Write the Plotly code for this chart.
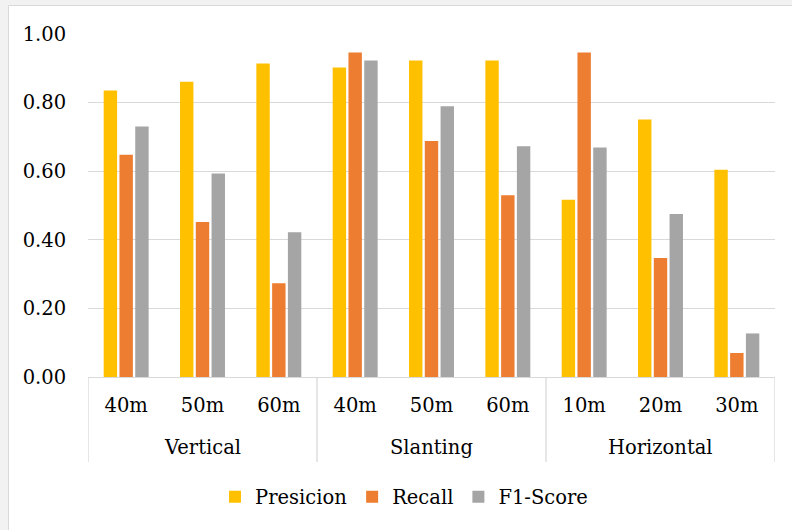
import plotly.graph_objects as go

group_names = ["Vertical", "Slanting", "Horizontal"]
groups = ["Vertical", "Vertical", "Vertical", "Slanting", "Slanting", "Slanting",
          "Horizontal", "Horizontal", "Horizontal"]
distances = ["40m", "50m", "60m", "40m", "50m", "60m", "10m", "20m", "30m"]
precision = [0.835, 0.861, 0.914, 0.902, 0.923, 0.923, 0.517, 0.751, 0.604]
recall = [0.648, 0.452, 0.273, 0.946, 0.688, 0.530, 0.946, 0.347, 0.070]
f1_score = [0.730, 0.593, 0.422, 0.923, 0.789, 0.673, 0.669, 0.475, 0.127]
y_ticks = [0.0, 0.2, 0.4, 0.6, 0.8, 1.0]

W, H = 792, 530
L, R, T, B = 88, 17, 34, 153
pw, ph = W - L - R, H - T - B

font = "DejaVu Serif"
FS = 19.5
xpos = list(range(len(distances)))

fig = go.Figure()
for name, vals, col in [("Presicion", precision, "#FFC000"),
                        ("Recall", recall, "#ED7D31"),
                        ("F1-Score", f1_score, "#A5A5A5")]:
    fig.add_trace(go.Bar(x=xpos, y=vals, name=name, marker_color=col,
                         marker_line_width=0))

def px_x(p):
    return (p - L) / pw

def px_y(p):
    return (H - B - p) / ph

shapes = [
    dict(type="rect", xref="paper", yref="paper", x0=px_x(0), x1=px_x(W), y0=px_y(0), y1=px_y(5),
         fillcolor="#f2f2f2", line_width=0, layer="below"),
    dict(type="rect", xref="paper", yref="paper", x0=px_x(0), x1=px_x(8), y0=px_y(0), y1=px_y(H),
         fillcolor="#f2f2f2", line_width=0, layer="below"),
    dict(type="line", xref="paper", yref="paper", x0=px_x(8.5), x1=px_x(W), y0=px_y(5.5), y1=px_y(5.5),
         line=dict(color="#d9d9d9", width=1)),
    dict(type="line", xref="paper", yref="paper", x0=px_x(8.5), x1=px_x(8.5), y0=px_y(5.5), y1=px_y(H),
         line=dict(color="#d9d9d9", width=1)),
]

# group dividers and group labels
bounds = [-0.5]
annotations = []
start = 0
for g in group_names:
    n = groups.count(g)
    end = start + n
    bounds.append(end - 0.5)
    annotations.append(dict(x=(start + end - 1) / 2, y=px_y(447), xref="x", yref="paper",
                            text=g, showarrow=False, xanchor="center", yanchor="middle",
                            font=dict(family=font, size=FS, color="#000000")))
    start = end
for b in bounds:
    shapes.append(dict(type="line", xref="x", yref="paper", x0=b, x1=b, y0=0, y1=px_y(462),
                       line=dict(color="#d9d9d9", width=1.3)))

fig.update_layout(
    width=W, height=H,
    margin=dict(l=L, r=R, t=T, b=B),
    paper_bgcolor="white", plot_bgcolor="white",
    barmode="group", bargap=0.38, bargroupgap=0.15,
    font=dict(family=font, size=FS, color="#000000"),
    showlegend=True,
    legend=dict(orientation="h", x=0.46, xanchor="center", y=px_y(497), yanchor="middle",
                font=dict(family=font, size=FS), itemwidth=30,
                traceorder="normal"),
    shapes=shapes,
    annotations=annotations,
    xaxis=dict(range=[-0.5, len(distances) - 0.5], tickvals=xpos, ticktext=distances,
               showline=True, linecolor="#d9d9d9", linewidth=1.3,
               ticks="outside", tickcolor="rgba(0,0,0,0)", ticklen=10,
               tickfont=dict(family=font, size=FS), showgrid=False, zeroline=False),
    yaxis=dict(range=[0, 1.0], tickvals=y_ticks, tickformat=".2f",
               showgrid=True, gridcolor="#d9d9d9", gridwidth=1.3, zeroline=False,
               ticks="outside", tickcolor="rgba(0,0,0,0)", ticklen=17,
               tickfont=dict(family=font, size=FS), showline=False),
)

fig.write_html("out.html", config={"displayModeBar": False},
               post_script="document.body.style.margin='0';document.body.style.padding='0';")
